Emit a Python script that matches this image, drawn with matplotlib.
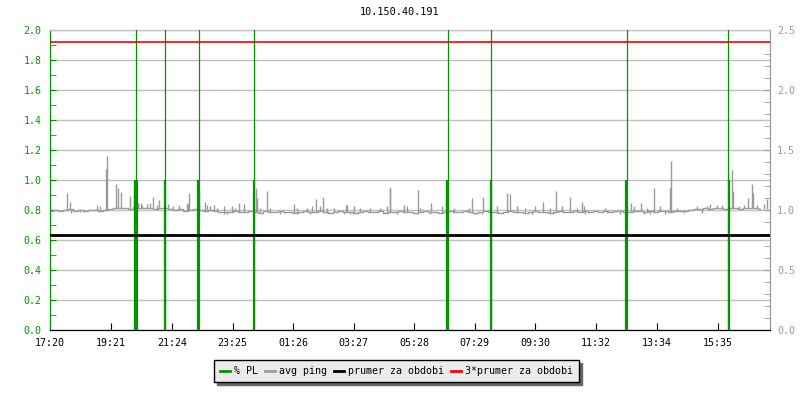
import numpy as np
import matplotlib
matplotlib.use("Agg")
import matplotlib.pyplot as plt

plt.rcParams['font.family'] = ['DejaVu Sans Mono']
plt.rcParams['font.size'] = 7.2

title = "10.150.40.191"

# time axis in minutes from 17:20
tick_min = [0, 121, 244, 365, 486, 607, 728, 849, 970, 1092, 1214, 1335]
tick_lbl = ["17:20", "19:21", "21:24", "23:25", "01:26", "03:27",
            "05:28", "07:29", "09:30", "11:32", "13:34", "15:35"]

# avg ping base level, every 10 minutes (right axis)
ping_base = [
    0.995, 1.0, 0.99, 1.0, 1.005, 0.99, 1.0, 0.995, 1.0, 1.0, 0.995, 1.0,
    1.01, 1.02, 1.015, 1.02, 1.01, 1.025, 1.02, 1.015, 1.02, 1.01, 1.015, 1.02, 1.01,
    1.0, 1.005, 0.995, 1.0, 1.01, 1.0, 0.995, 1.0, 0.99, 0.985, 0.98, 0.985,
    0.99, 0.985, 0.98, 0.99, 0.985, 0.975, 0.99, 0.985, 0.98, 0.99, 0.985, 0.98,
    0.975, 0.985, 0.99, 0.98, 0.985, 0.99, 0.98, 0.975, 0.985, 0.99, 0.98, 0.985,
    0.975, 0.98, 0.99, 0.985, 0.98, 0.99, 0.975, 0.985, 0.98, 0.99,
    0.985, 0.98, 0.975, 0.985, 0.99, 0.98, 0.985, 0.975, 0.98, 0.99, 0.985, 0.98,
    0.99, 0.985, 0.975, 0.98, 0.99, 0.985, 0.98, 0.975, 0.985, 0.99, 0.98, 0.985,
    0.975, 0.98, 0.99, 0.985, 0.98, 0.975, 0.985, 0.99, 0.98, 0.985, 0.99, 0.98,
    0.99, 0.985, 0.995, 0.98, 0.99, 0.985, 0.995, 0.99, 0.98, 0.985, 0.99,
    0.995, 0.98, 0.99, 0.985, 0.995, 0.99, 0.985, 0.99, 0.995, 0.99, 1.0,
    1.005, 1.01, 1.015, 1.01, 1.02, 1.015, 1.01, 1.02, 1.015, 1.01, 1.02, 1.015, 1.02, 1.01,
]
ping_t = np.arange(len(ping_base)) * 10

# avg ping spikes (minute, value)
spike_t = [34, 40, 112, 114, 132, 136, 142, 160, 168, 176, 182, 206, 218, 236,
           274, 278, 298, 310, 378, 412, 414, 434, 532, 546, 594, 680, 736,
           680, 762, 792, 844, 866, 914, 920, 986, 1012, 1040, 1064, 1162,
           1182, 1208, 1242, 1240, 1320, 1364, 1366, 1396, 1404, 1406, 1434]
spike_v = [1.14, 1.07, 1.34, 1.45, 1.22, 1.18, 1.15, 1.12, 1.18, 1.06, 1.06,
           1.11, 1.08, 1.05, 1.06, 1.14, 1.17, 1.07, 1.06, 1.18, 1.10, 1.16,
           1.09, 1.11, 1.04, 1.18, 1.17, 1.18, 1.06, 1.10, 1.10, 1.11, 1.14,
           1.13, 1.07, 1.16, 1.11, 1.07, 1.06, 1.06, 1.18, 1.41, 1.18, 1.05,
           1.33, 1.16, 1.10, 1.22, 1.14, 1.09]

# small jitter above and below the base level
small_t = [93, 100, 175, 183, 193, 199, 213, 227, 245, 257, 275, 313, 320, 328,
           333, 347, 363, 370, 388, 420, 440, 487, 493, 513, 523, 540, 553, 567,
           592, 608, 620, 640, 660, 673, 707, 713, 740, 783, 807, 837, 880, 893,
           933, 950, 970, 1000, 1023, 1053, 1067, 1110, 1167, 1193, 1220, 1253,
           1293, 1313, 1333, 1343, 1377, 1387, 1413, 1427]
small_v = [1.04, 1.03, 1.05, 1.04, 1.05, 1.06, 1.04, 1.03, 1.03, 1.04, 1.05,
           1.04, 1.03, 1.04, 1.02, 1.03, 1.03, 1.02, 1.05, 1.02, 1.02, 1.05,
           1.02, 1.02, 1.03, 1.03, 1.02, 1.02, 1.04, 1.03, 1.02, 1.02, 1.02,
           1.03, 1.04, 1.03, 1.02, 1.03, 1.02, 1.02, 1.03, 1.03, 1.03, 1.02,
           1.03, 1.02, 1.03, 1.02, 1.03, 1.02, 1.03, 1.02, 1.03, 1.02, 1.03,
           1.03, 1.04, 1.04, 1.03, 1.04, 1.04, 1.05]
dip_t = [41, 60, 347, 353, 460, 470, 520, 553, 587, 600, 667, 693, 733, 760,
         793, 850, 863, 933, 963, 1007, 1070, 1113, 1140, 1187, 1200, 1230,
         1267, 1303]
dip_v = [0.975, 0.98, 0.965, 0.97, 0.97, 0.975, 0.97, 0.975, 0.97, 0.97,
         0.975, 0.97, 0.97, 0.965, 0.975, 0.965, 0.97, 0.975, 0.97, 0.975,
         0.97, 0.975, 0.965, 0.97, 0.965, 0.97, 0.975, 0.975]

# % PL (left axis)
pl_t = [169, 173, 229, 296, 408, 793, 882, 1152, 1357]
pl_v = [1.0, 1.0, 1.0, 1.0, 1.0, 1.0, 1.0, 1.0, 1.0]
pl_big_t = [171, 229, 297, 407, 795, 881, 1153, 1355]
pl_big_v = [100, 100, 100, 100, 100, 100, 100, 100]

prumer = 0.795
prumer3 = 2.40

green = '#009600'
gray = '#9a9a9a'

fig = plt.figure(figsize=(8, 4), dpi=100)
ax = fig.add_axes([0.0625, 0.175, 0.9, 0.75])
ax2 = ax.twinx()

ax.set_xlim(0, 1440)
ax.set_ylim(0, 2.0)
ax2.set_ylim(0, 2.5)

ax.set_yticks(np.arange(0, 2.01, 0.2))
ax.set_yticklabels([f"{v:.1f}" for v in np.arange(0, 2.01, 0.2)])
ax.set_yticks(np.arange(0.1, 2.0, 0.2), minor=True)
ax2.set_yticks(np.arange(0, 2.51, 0.5))
ax2.set_yticklabels([f"{v:.1f}" for v in np.arange(0, 2.51, 0.5)])
ax2.set_yticks(np.arange(0, 2.51, 0.1), minor=True)
ax.set_xticks(tick_min)
ax.set_xticklabels(tick_lbl)

ax.grid(axis='y', color='#c0c0c0', linewidth=1)
ax.tick_params(axis='y', which='both', direction='in', length=4, color=green,
               labelcolor=green, pad=6)
ax.tick_params(axis='x', direction='in', length=5, color='black', pad=6)
ax2.tick_params(axis='y', which='both', direction='in', length=4, color=gray,
                labelcolor=gray, pad=5)

for a in (ax, ax2):
    a.spines['left'].set_color(green)
    a.spines['right'].set_color(gray)
    a.spines['bottom'].set_color('black')
    a.spines['top'].set_color('#c0c0c0')

# avg ping
ax2.plot(ping_t, ping_base, color=gray, linewidth=1, drawstyle='steps-mid',
         zorder=2, label='avg ping')
ax2.vlines(spike_t, np.interp(spike_t, ping_t, ping_base), spike_v,
           color=gray, linewidth=1, zorder=2)
ax2.vlines(small_t, np.interp(small_t, ping_t, ping_base), small_v,
           color=gray, linewidth=1, zorder=2)
ax2.vlines(dip_t, np.interp(dip_t, ping_t, ping_base), dip_v,
           color=gray, linewidth=1, zorder=2)

# % PL drawn in left-axis units on top of the gray series
ax2.vlines(pl_big_t, 0, pl_big_v, color=green, linewidth=0.9, zorder=3,
           transform=ax.transData)
ax2.vlines(pl_t, 0, pl_v, color=green, linewidth=1.6, zorder=3,
           transform=ax.transData)
h_pl, = ax2.plot([], [], color=green, linewidth=2, label='% PL')

ax2.axhline(prumer, color='black', linewidth=2, zorder=4, label='prumer za obdobi')
ax2.axhline(prumer3, color='red', linewidth=1.2, zorder=4, label='3*prumer za obdobi')

ax2.set_ylim(0, 2.5)
ax.set_ylim(0, 2.0)

fig.text(0.5, 1 - 12 / 400, title, ha='center', va='center', fontsize=7.4)

handles, labels = ax2.get_legend_handles_labels()
order = [labels.index(l) for l in ['% PL', 'avg ping', 'prumer za obdobi', '3*prumer za obdobi']]
leg = fig.legend([handles[i] for i in order], [labels[i] for i in order],
                 loc='center', bbox_to_anchor=(0.496, 1 - 371 / 400), ncol=4,
                 frameon=True, fancybox=False, shadow={'color': '#666666', 'alpha': 1},
                 edgecolor='black', facecolor='#ebebeb', framealpha=1,
                 handlelength=1.0, handletextpad=0.4, columnspacing=0.7,
                 borderpad=0.6, fontsize=7.2)
leg.get_frame().set_linewidth(1)
for line in leg.get_lines():
    line.set_linewidth(2)

fig.savefig("out.png", dpi=100)
